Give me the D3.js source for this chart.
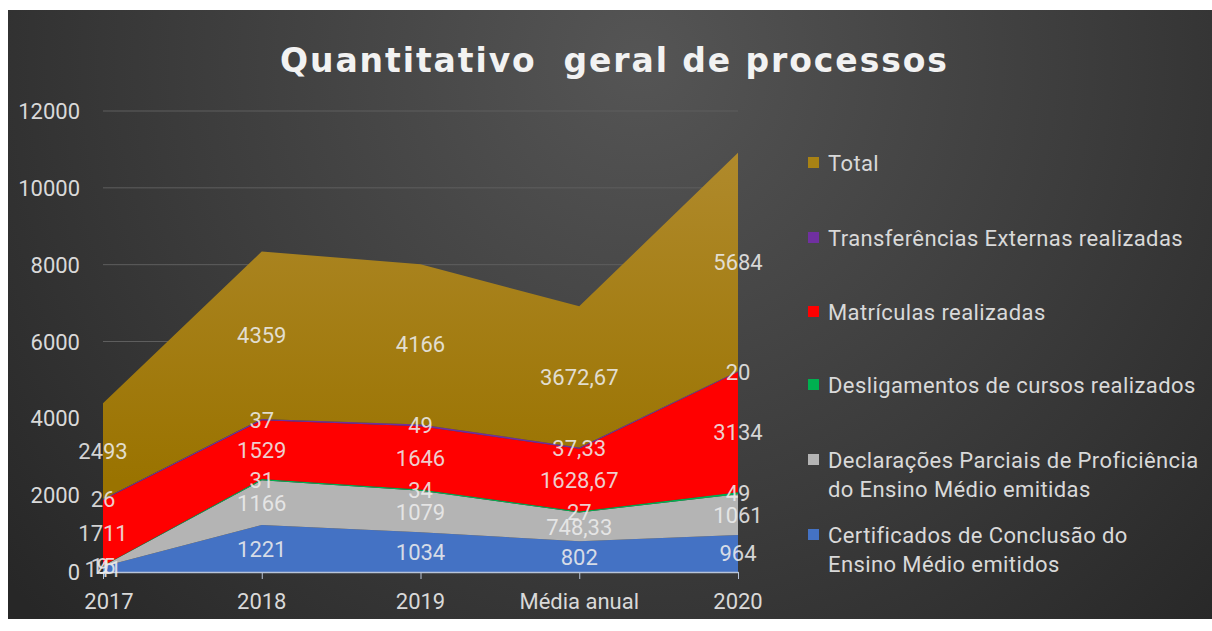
<!DOCTYPE html>
<html>
<head>
<meta charset="utf-8">
<script src="https://cdn.jsdelivr.net/npm/d3@7/dist/d3.min.js"></script>
<style>
  html, body { margin: 0; padding: 0; background: #ffffff; }
  svg { display: block; }
  text { font-family: Roboto, "Open Sans", sans-serif; }
  text.title { font-family: "DejaVu Sans", sans-serif; }
</style>
</head>
<body>
<svg id="chart" width="1212" height="631"></svg>
<script>
// ---------- DATA ----------
const categories = ["2017", "2018", "2019", "Média anual", "2020"];
const certificados = [141, 1221, 1034, 802, 964];
const declaracoes = [15, 1166, 1079, 748.33, 1061];
const desligamentos = [9, 31, 34, 27, 49];
const matriculas = [1711, 1529, 1646, 1628.67, 3134];
const transferencias = [26, 37, 49, 37.33, 20];
const totais = [2493, 4359, 4166, 3672.67, 5684];
const yTicks = [0, 2000, 4000, 6000, 8000, 10000, 12000];
const titleText = "Quantitativo  geral de processos";

const seriesDefs = [
  { key: "cert", name: ["Certificados de Conclusão do", "Ensino Médio emitidos"], values: certificados, color: "#4472c4" },
  { key: "decl", name: ["Declarações Parciais de Proficiência", "do Ensino Médio emitidas"], values: declaracoes, color: "#b4b4b4" },
  { key: "desl", name: ["Desligamentos de cursos realizados"], values: desligamentos, color: "#00b050" },
  { key: "matr", name: ["Matrículas realizadas"], values: matriculas, color: "#ff0000" },
  { key: "transf", name: ["Transferências Externas realizadas"], values: transferencias, color: "#7030a0" },
  { key: "total", name: ["Total"], values: totais, color: "url(#goldGrad)" }
];
const legendColors = { cert: "#4472c4", decl: "#b4b4b4", desl: "#00b050", matr: "#ff0000", transf: "#7030a0", total: "#a88214" };

const fmt = v => (Math.round(v * 100) / 100).toString().replace(".", ",");

// ---------- SETUP ----------
const svg = d3.select("#chart");
const defs = svg.append("defs");

const bg = defs.append("radialGradient").attr("id", "bgGrad")
  .attr("gradientUnits", "userSpaceOnUse")
  .attr("cx", 640).attr("cy", 60).attr("r", 820);
bg.append("stop").attr("offset", "0%").attr("stop-color", "#555555");
bg.append("stop").attr("offset", "55%").attr("stop-color", "#3c3c3c");
bg.append("stop").attr("offset", "100%").attr("stop-color", "#272727");

const gold = defs.append("linearGradient").attr("id", "goldGrad")
  .attr("gradientUnits", "userSpaceOnUse")
  .attr("x1", 0).attr("y1", 150).attr("x2", 0).attr("y2", 480);
gold.append("stop").attr("offset", "0%").attr("stop-color", "#b08a2c");
gold.append("stop").attr("offset", "100%").attr("stop-color", "#9a7300");

// background panel
svg.append("rect").attr("x", 8).attr("y", 10).attr("width", 1204).attr("height", 609)
  .attr("fill", "url(#bgGrad)");

const x = d3.scalePoint().domain(categories).range([103, 738]);
const y = d3.scaleLinear().domain([0, 12000]).range([572, 111]);

// gridlines
svg.append("g").selectAll("line").data(yTicks.filter(t => t > 0)).join("line")
  .attr("x1", 103).attr("x2", 738)
  .attr("y1", d => y(d)).attr("y2", d => y(d))
  .attr("stroke", "#5e5e5e").attr("stroke-width", 1);

// stack
const rows = categories.map((c, i) => {
  const r = { cat: c };
  seriesDefs.forEach(s => r[s.key] = s.values[i]);
  return r;
});
const stack = d3.stack().keys(seriesDefs.map(s => s.key));
const stacked = stack(rows);

const area = d3.area()
  .x(d => x(d.data.cat))
  .y0(d => y(d[0]))
  .y1(d => y(d[1]));

svg.append("g").selectAll("path").data(stacked).join("path")
  .attr("d", area)
  .attr("fill", (d, i) => seriesDefs[i].color);

// x axis line + ticks
const xAxis = d3.axisBottom(x).tickSize(7).tickSizeOuter(0).tickFormat("");
const gx = svg.append("g").attr("transform", `translate(0,${y(0)})`).call(xAxis);
gx.select(".domain").attr("stroke", "#b8c4d8").attr("stroke-width", 1.5);
gx.selectAll(".tick line").attr("stroke", "#b8c4d8");

svg.append("g").selectAll("text").data(categories).join("text")
  .attr("x", (d, i) => x(d) + (i === 0 ? 6 : 0))
  .attr("y", 609)
  .attr("text-anchor", "middle")
  .attr("font-size", 22)
  .attr("fill", "#d9d9d9")
  .text(d => d);

// y axis labels
svg.append("g").selectAll("text").data(yTicks).join("text")
  .attr("x", 80)
  .attr("y", d => y(d) + 8)
  .attr("text-anchor", "end")
  .attr("font-size", 22)
  .attr("fill", "#d9d9d9")
  .text(d => d);

// data labels
const lblG = svg.append("g");
stacked.forEach((layer, li) => {
  lblG.selectAll(null).data(layer).join("text")
    .attr("x", d => x(d.data.cat))
    .attr("y", d => y((d[0] + d[1]) / 2) + 8)
    .attr("text-anchor", "middle")
    .attr("font-size", 22)
    .attr("fill", "#ececec")
    .attr("fill-opacity", 0.88)
    .text(d => fmt(d[1] - d[0]));
});

// title
svg.append("text")
  .attr("class", "title")
  .attr("x", 280).attr("y", 72)
  .attr("font-size", 33).attr("font-weight", "bold")
  .attr("fill", "#f2f2f2")
  .attr("textLength", 667).attr("lengthAdjust", "spacing")
  .attr("xml:space", "preserve")
  .style("white-space", "pre")
  .text(titleText);

// legend
const legendOrder = ["total", "transf", "matr", "desl", "decl", "cert"];
const legendY = [163, 238, 312, 385, 460, 535];
const lg = svg.append("g");
legendOrder.forEach((k, i) => {
  const s = seriesDefs.find(d => d.key === k);
  const cy = legendY[i];
  lg.append("rect").attr("x", 808).attr("y", cy - 6).attr("width", 11).attr("height", 11)
    .attr("fill", legendColors[k]);
  s.name.forEach((line, j) => {
    lg.append("text").attr("x", 828).attr("y", cy + 8 + j * 29)
      .attr("font-size", 22).attr("letter-spacing", 0.4).attr("fill", "#d9d9d9")
      .text(line);
  });
});
</script>
</body>
</html>
